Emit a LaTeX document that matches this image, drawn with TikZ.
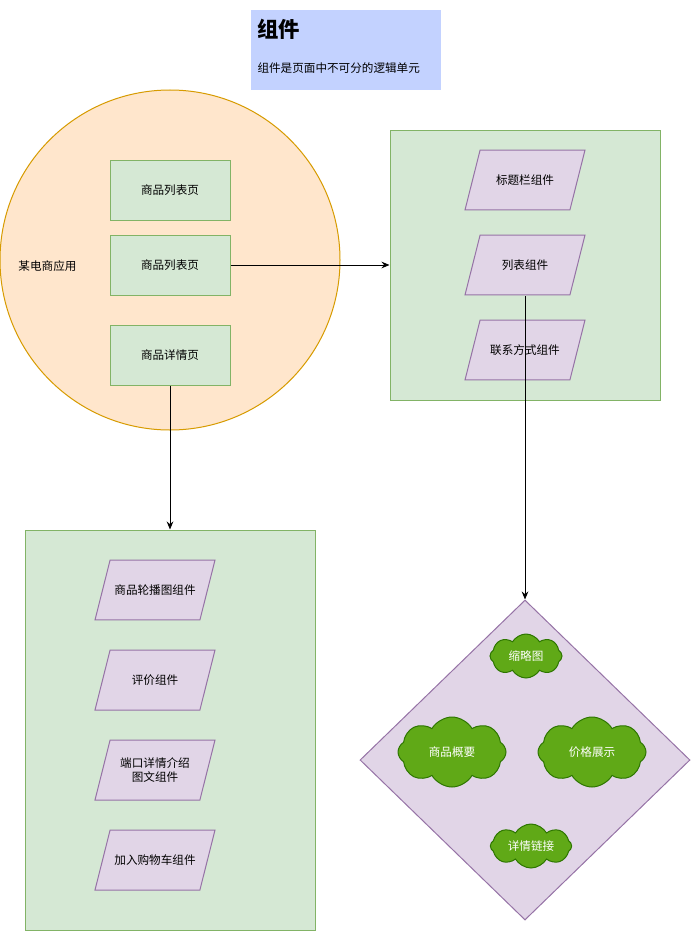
\documentclass[tikz,border=0pt]{standalone}
\usepackage{fontspec}
\setmainfont{Noto Sans CJK SC}
\usetikzlibrary{shapes.geometric,shapes.symbols,arrows.meta,calc}

\definecolor{headfill}{RGB}{195,210,255}
\definecolor{appfill}{RGB}{255,230,204}
\definecolor{appline}{RGB}{215,155,0}
\definecolor{pagefill}{RGB}{213,232,212}
\definecolor{pageline}{RGB}{130,179,102}
\definecolor{compfill}{RGB}{225,213,231}
\definecolor{compline}{RGB}{150,115,166}
\definecolor{partfill}{RGB}{96,169,23}
\definecolor{partline}{RGB}{45,118,0}

\tikzset{
  lbl/.style={font=\fontsize{8.7}{10.5}\selectfont},
  page/.style={lbl, draw=pageline, fill=pagefill, minimum width=90pt, minimum height=45pt, inner sep=0pt},
  panel/.style={draw=pageline, fill=pagefill, inner sep=0pt},
  comp/.style={lbl, minimum width=91pt, minimum height=46pt, inner sep=0pt, align=center,
    path picture={
      \coordinate (t0) at ($(path picture bounding box.north west)!0.011!(path picture bounding box.south west)$);
      \coordinate (t1) at ($(path picture bounding box.north east)!0.011!(path picture bounding box.south east)$);
      \coordinate (b0) at ($(path picture bounding box.south west)!0.011!(path picture bounding box.north west)$);
      \coordinate (b1) at ($(path picture bounding box.south east)!0.011!(path picture bounding box.north east)$);
      \draw[draw=compline, fill=compfill] ($(t0)!0.13!(t1)$) -- ($(t0)!0.9945!(t1)$) -- ($(b1)!0.13!(b0)$) -- ($(b1)!0.9945!(b0)$) -- cycle;
    }},
  part/.style={lbl, cloud, cloud puffs=8, cloud puff arc=120, cloud ignores aspect, draw=partline, fill=partfill, text=white, inner sep=0pt},
  link/.style={-{Stealth[length=6pt,width=5pt]}}
}

\begin{document}
\begin{tikzpicture}[x=0.75pt,y=0.75pt,yscale=-1,xscale=1,line width=0.75pt]
\useasboundingbox (0,0) rectangle (693,931);

% Header
\node[fill=headfill, minimum width=142.5pt, minimum height=60pt, inner sep=0pt] (head) at (346,50) {};
\node[anchor=west, inner sep=0pt, font=\bfseries\fontsize{16}{19}\selectfont] (headtitle) at (257,29) {组件};
\node[lbl, anchor=west, inner sep=0pt] (headtext) at (257,68) {组件是页面中不可分的逻辑单元};

% App circle
\node[circle, draw=appline, fill=appfill, minimum size=255pt, inner sep=0pt] (app) at (170,260) {};
\node[lbl, anchor=west, inner sep=0pt] (appname) at (18,266) {某电商应用};

% Pages
\node[page] (list1) at (170,190) {商品列表页};
\node[page] (list2) at (170,265) {商品列表页};
\node[page] (detail) at (170,355) {商品详情页};

% List page components
\node[panel, minimum width=202.5pt, minimum height=202.5pt] (listpanel) at (525,265) {};
\node[comp] (titlebar) at (525,180) {标题栏组件};
\node[comp] (listcomp) at (525,265) {列表组件};
\node[comp] (contact) at (525,350) {联系方式组件};

% Detail page components
\node[panel, minimum width=217.5pt, minimum height=300pt] (detailpanel) at (170,730) {};
\node[comp] (carousel) at (155,590) {商品轮播图组件};
\node[comp] (review) at (155,680) {评价组件};
\node[comp] (intro) at (155,770) {端口详情介绍\\图文组件};
\node[comp] (cart) at (155,860) {加入购物车组件};

% List item
\node[diamond, draw=compline, fill=compfill, minimum width=247.5pt, minimum height=240pt, inner sep=0pt] (item) at (525,760) {};
\node[part, minimum width=54pt, minimum height=33pt] (thumb) at (526,656) {缩略图};
\node[part, minimum width=81pt, minimum height=52.5pt] (summary) at (452,752) {商品概要};
\node[part, minimum width=81pt, minimum height=52.5pt] (price) at (592,752) {价格展示};
\node[part, minimum width=61pt, minimum height=33pt] (detaillink) at (531,846) {详情链接};

% Connectors
\draw[link] (list2.east) -- (listpanel.west);
\draw[link] (detail.south) -- (detailpanel.north);
\draw[link] (listcomp.south) -- (item.north);

\end{tikzpicture}
\end{document}
